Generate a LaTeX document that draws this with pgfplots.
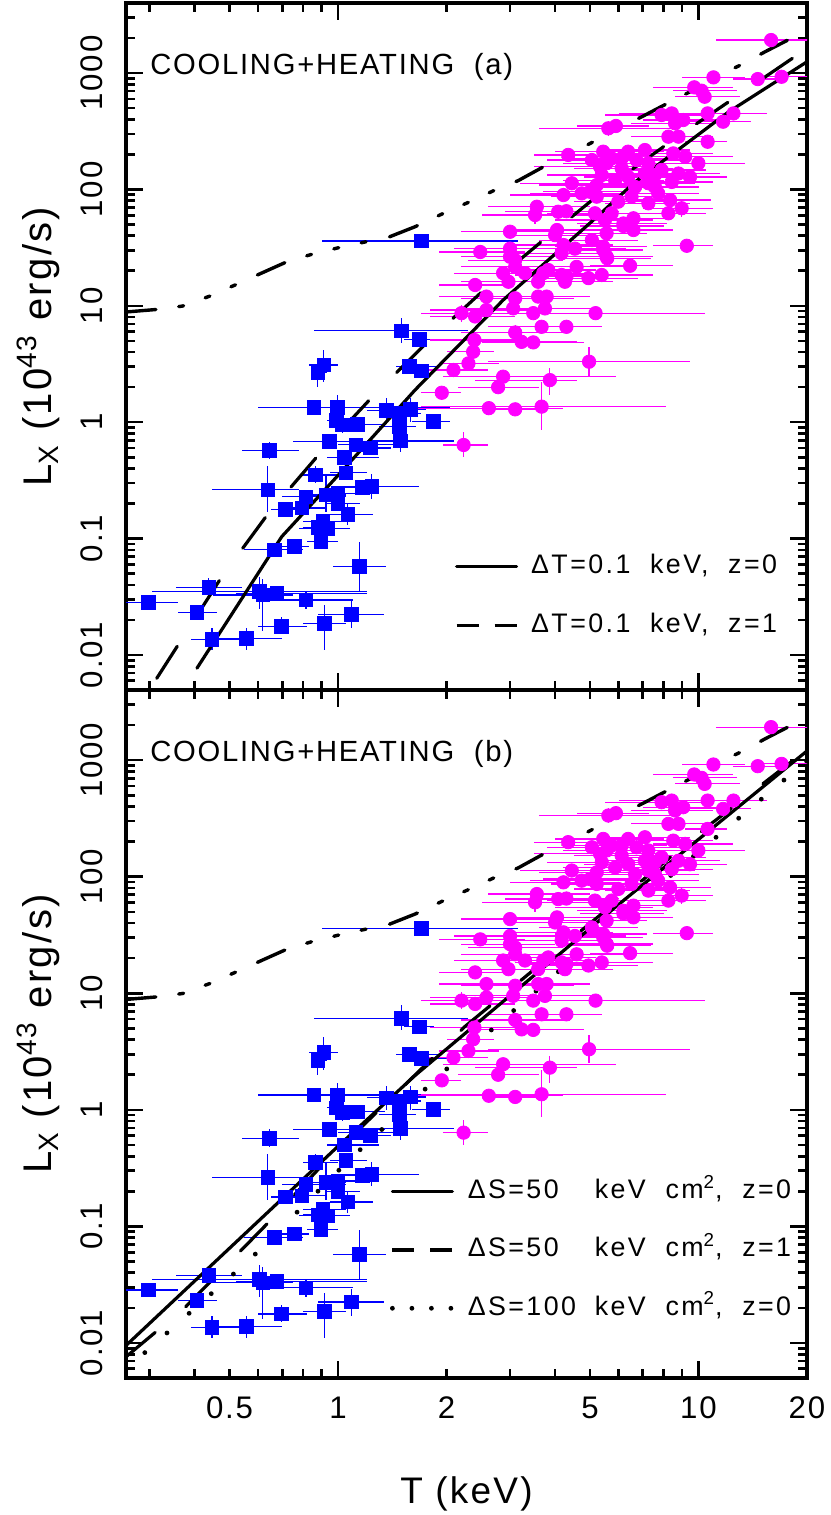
\documentclass[border=0pt]{standalone}
\usepackage{fontspec}
\setmainfont{Liberation Sans}[LetterSpace=6]
\usepackage{pgfplots}
\usepackage{pgfplotstable}
\pgfplotsset{compat=1.18}

\pgfplotstableread{
T L Tlo Thi Llo Lhi
1.70 36 0.90 3.16 33 40
1.50 6.1 0.858 2.3 4.8 7.9
1.68 5.15 1.52 1.85 4.8 5.6
0.913 3.1 0.83 1.0 2.2 4.2
0.878 2.66 0.84 0.93 2.0 3.2
1.58 3.0 1.45 1.9 2.8 3.2
1.70 2.77 1.55 2.0 2.6 2.95
0.856 1.34 0.60 2.05 1.25 1.45
0.994 1.34 0.95 1.05 1.0 1.7
0.99 1.04 0.93 1.08 0.9 1.2
1.03 0.95 0.95 1.15 0.8 1.1
1.13 0.96 1.0 1.35 0.88 1.05
1.36 1.27 1.2 1.5 1.0 1.6
1.48 1.19 1.3 1.7 1.1 1.3
1.59 1.29 1.45 1.75 1.0 1.6
1.48 0.915 1.3 1.65 0.75 1.1
1.84 1.01 1.6 2.05 0.95 1.1
0.946 0.68 0.75 1.35 0.62 0.74
1.12 0.64 1.0 1.5 0.58 0.72
1.23 0.60 1.1 1.4 0.55 0.65
1.49 0.69 1.2 2.1 0.55 0.85
0.646 0.569 0.54 0.78 0.48 0.68
1.04 0.50 0.93 1.3 0.45 0.56
0.865 0.352 0.8 1.0 0.3 0.42
1.05 0.368 0.95 1.2 0.33 0.41
0.638 0.262 0.447 0.78 0.17 0.42
0.815 0.229 0.7 1.05 0.21 0.25
0.926 0.237 0.83 1.05 0.17 0.35
1.0 0.245 0.9 1.25 0.22 0.27
1.0 0.20 0.92 1.15 0.18 0.22
1.166 0.274 1.03 1.3 0.24 0.31
1.24 0.28 1.03 1.68 0.22 0.36
0.714 0.179 0.65 0.8 0.165 0.195
0.794 0.183 0.7 0.92 0.16 0.21
1.064 0.162 0.95 1.25 0.13 0.2
0.907 0.140 0.8 1.05 0.12 0.16
0.936 0.123 0.78 1.08 0.11 0.135
0.878 0.125 0.8 0.95 0.11 0.14
0.897 0.094 0.82 1.0 0.085 0.104
0.757 0.086 0.7 0.83 0.078 0.094
0.666 0.080 0.55 0.8 0.07 0.09
1.146 0.0574 0.97 1.36 0.035 0.094
0.438 0.0379 0.355 0.54 0.032 0.046
0.605 0.035 0.305 1.2 0.025 0.047
0.618 0.0328 0.45 0.75 0.016 0.045
0.677 0.0339 0.52 1.2 0.03 0.038
0.815 0.0297 0.6 1.1 0.025 0.035
0.298 0.0284 0.258 0.36 0.026 0.031
0.406 0.0231 0.36 0.46 0.021 0.0255
1.087 0.0224 0.88 1.34 0.017 0.029
0.695 0.0177 0.6 0.82 0.015 0.021
0.916 0.0187 0.8 1.05 0.011 0.027
0.447 0.0136 0.39 0.56 0.011 0.017
0.556 0.0138 0.45 0.7 0.011 0.017
}\bluedata

\pgfplotstableread{
T L Tlo Thi Llo Lhi
15.9 1921 11.2 22 1750 2100
11.0 918 9.0 13.5 840 1000
14.6 888 12.5 17.5 820 960
17.0 929 14.5 22 860 1000
9.73 754 7.5 12.5 690 830
10.2 705 8.5 12.8 650 770
10.4 626 8.6 13.0 570 690
12.5 450 10.0 15.5 410 495
11.7 382 9.5 14.0 350 420
10.6 450 8.5 13.0 410 500
8.43 450 6.0 11.5 410 495
7.9 436 5.5 10.5 400 475
8.61 370 6.5 11.0 340 405
9.07 395 7.0 12.0 360 430
5.62 335 3.6 8.5 290 390
5.9 351 4.6 7.3 320 385
8.25 284 6.5 10.5 260 310
8.8 284 7.0 11.0 260 310
10.6 257 9.2 12.0 225 295
4.35 198 3.5 5.2 180 218
5.44 211 4.0 7.5 190 235
6.38 211 5.0 8.0 190 235
7.1 218 5.5 9.5 195 245
5.74 185 4.2 7.8 170 200
9.18 191 7.5 12.5 175 210
8.51 204 6.8 11.0 185 225
9.99 168 8.0 13.5 150 188
5.33 157 3.5 8.0 142 172
6.12 152 4.5 8.5 138 168
7.26 168 5.5 10.0 152 185
7.9 147 6.0 10.5 133 162
8.8 137 7.0 11.5 124 150
9.47 128 7.8 12.0 115 142
5.39 133 3.8 7.5 120 147
5.87 120 4.2 8.0 108 133
6.38 128 4.8 8.8 115 142
6.67 105 5.0 9.0 95 116
7.26 113 5.5 9.8 102 125
7.57 105 6.0 10.0 95 116
8.43 116 6.5 11.0 105 128
5.22 109 3.6 7.0 98 121
4.45 113 3.2 6.2 102 125
4.74 92.5 3.4 6.5 84 102
4.22 89.5 3.0 6.0 81 99
5.22 86.7 3.9 7.0 78 96
5.99 78.5 4.5 8.0 71 87
7.26 76 5.5 9.5 69 84
8.34 81 6.5 10.8 73 90
8.98 68.9 7.0 11.0 58 82
3.56 71 2.6 5.0 64 79
3.52 60.3 2.5 5.2 50 72
4.08 64.3 2.9 5.8 58 71
4.3 65 3.1 6.0 59 72
5.16 62.4 3.8 7.0 56 69
5.5 54.6 4.0 7.5 49 61
6.19 51 4.6 8.2 46 57
6.6 44.8 5.0 8.5 40 50
3.0 43.3 2.2 4.2 39 48
4.0 40.5 2.9 5.5 36 45
5.06 36.7 3.6 6.8 33 41
5.44 32.2 4.0 7.2 29 36
9.28 32.8 7.5 11.0 30 36
2.48 29 1.9 3.3 26 32
3.0 31 2.1 4.0 28 34
3.1 21.6 2.2 4.2 19.5 24
4.17 28.3 3.0 5.8 25.5 31
4.54 31 3.3 6.3 28 34
4.59 21.6 3.4 6.2 19.5 24
5.56 26.5 4.2 7.5 24 29
6.46 22.1 5.0 8.5 20 24.5
2.87 19.1 2.1 3.8 17 21.5
3.30 19.1 2.4 4.5 17 21.5
2.97 16.1 2.2 4.0 14.5 18
3.59 16.1 2.6 5.0 14.5 18
4.3 17.8 3.3 5.6 16 20
4.95 17.3 3.7 6.8 15.5 19.5
5.39 18.4 4.0 7.5 16.5 20.5
2.4 15.1 1.9 3.0 13.5 17
2.58 12 1.9 3.5 10.8 13.4
3.1 11.6 2.2 4.5 10.4 13
3.59 12 2.6 4.8 10.8 13.4
3.79 12 2.8 5.0 10.8 13.4
2.2 8.65 1.7 2.8 7.3 10.2
2.4 8.1 1.8 3.1 7.2 9.1
2.58 9.2 1.8 3.8 8.2 10.3
3.06 9.5 2.2 4.3 8.5 10.6
3.48 8.65 2.5 4.9 7.8 9.6
3.75 9.5 2.7 5.3 8.5 10.6
5.18 8.65 3.95 10.4 7.8 9.6
3.1 5.9 2.2 4.4 5.1 6.8
3.67 6.6 2.6 5.2 5.8 7.5
4.3 6.6 3.2 5.4 5.8 7.5
3.23 4.9 2.3 4.6 4.4 5.5
3.48 4.85 2.5 4.8 4.3 5.4
2.39 5.08 1.8 3.3 4.5 5.7
2.37 4.03 2.0 2.7 3.6 4.5
2.30 3.2 1.9 2.8 2.9 3.6
2.09 2.81 1.6 2.6 2.5 3.1
2.87 2.46 1.96 5.9 2.2 2.75
2.78 2.0 2.15 3.6 1.75 2.3
3.87 2.30 2.4 4.6 1.7 2.9
4.97 3.31 2.6 9.5 2.5 4.4
1.94 1.79 1.7 2.2 1.6 2.0
2.62 1.32 1.5 4.2 1.15 1.5
3.1 1.29 2.5 3.8 1.15 1.45
3.67 1.36 1.7 8.1 0.86 2.2
2.23 0.637 1.95 2.6 0.5 0.82
5.56 42 4.2 7.2 38 46
6.19 48.5 4.7 8.0 44 53
5.44 30.2 4.0 7.0 27 33.5
5.58 25.6 4.2 7.4 23 28.5
4.22 33.3 3.1 5.8 30 37
4.05 44.8 3.0 5.5 40.5 49.5
3.0 26.4 2.2 4.0 24 29
3.1 24.7 2.3 4.2 22.3 27.3
3.71 19.1 2.7 5.0 17.2 21
3.83 20.3 2.8 5.2 18.3 22.5
4.17 18.4 3.1 5.6 16.5 20.5
4.26 16.1 3.1 5.8 14.5 18
5.56 168 4.2 7.5 152 185
6.12 185 4.6 8.2 170 200
6.73 179 5.0 9.0 163 196
7.1 137 5.4 9.5 125 150
7.57 133 5.8 9.8 121 146
6.52 86.7 5.0 8.6 79 95
7.73 92.5 6.0 10.0 84 101
8.25 62.4 6.5 10.5 56 69
5.06 179 3.8 6.8 163 196
5.74 62.4 4.3 7.6 56 69
6.6 56.5 5.0 8.5 51 62
5.0 95.5 3.7 6.8 87 105
}\magdata

% model curves
\pgfplotstableread{
T L
0.406 0.0077
0.698 0.104
0.992 0.340
1.635 1.89
2.87 11.2
5.11 54.6
6.67 116
12.1 462
20 1250
}\solidA

\pgfplotstableread{
T L
0.314 0.0063
0.476 0.0471
0.641 0.165
0.891 0.541
1.253 1.69
1.80 5.15
2.61 14.8
3.86 40.6
5.74 111
8.70 281
13.0 656
20 1630
}\dashA

\pgfplotstableread{
T L
0.258 8.85
0.317 9.33
0.371 9.96
0.44 12.1
0.518 15.1
0.597 18.4
0.721 23.9
0.845 27.7
1.013 31.8
1.20 35.6
1.39 39.2
1.635 47.8
1.96 62.3
2.32 78.4
2.70 97.5
3.16 119
3.79 162
4.35 198
5.11 257
5.99 335
6.96 421
8.30 560
9.67 714
11.2 929
13.2 1188
15.3 1524
18.3 2026
20 2296
}\dashdot

\pgfplotstableread{
T L
0.258 0.0095
0.992 0.476
1.635 1.97
5.87 54.6
20 1200
}\solidB

\pgfplotstableread{
T L
0.258 0.0076
0.376 0.0201
0.641 0.108
0.901 0.332
2.25 5.19
10.6 270
20 1230
}\dashB

\pgfplotstableread{
T L
0.291 0.00826
0.573 0.053
1.068 0.366
2.05 2.40
5.87 40.6
20 990
}\dotB

\definecolor{ptblue}{rgb}{0,0,1}
\definecolor{ptmag}{rgb}{1,0,1}

\pgfplotsset{
  LxBluePts/.style={only marks, mark=square*, mark size=3.4pt, color=ptblue,
    error bars/x dir=both, error bars/y dir=both,
    error bars/x explicit, error bars/y explicit,
    error bars/error mark=none,
    error bars/error bar style={line width=0.6pt, color=ptblue}},
  LxMagPts/.style={only marks, mark=*, mark size=3.35pt, color=ptmag,
    error bars/x dir=both, error bars/y dir=both,
    error bars/x explicit, error bars/y explicit,
    error bars/error mark=none,
    error bars/error bar style={line width=0.6pt, color=ptmag}},
  LxSolid/.style={no markers, black, line width=1.6pt, line join=round, solid, line cap=round},
  LxDash/.style={no markers, black, line width=1.6pt, line join=round, line cap=round, dash pattern=on 19pt off 20pt},
  LxDashDot/.style={no markers, black, line width=1.7pt, line join=round, line cap=round, dash pattern=on 15pt off 11.5pt on 2.5pt off 11.5pt on 2.5pt off 11.5pt on 2.5pt off 12pt},
  LxDot/.style={no markers, black, line width=2.4pt, line cap=round, dash pattern=on 0pt off 14.8pt},
}
\pgfkeys{/pgfplots/table/errtab/.style={x=T, y=L,
    x error plus expr=\thisrow{Thi}-\thisrow{T},
    x error minus expr=\thisrow{T}-\thisrow{Tlo},
    y error plus expr=\thisrow{Lhi}-\thisrow{L},
    y error minus expr=\thisrow{L}-\thisrow{Llo}}}

\begin{document}
\begin{tikzpicture}
% ---------------- top panel ----------------
\begin{axis}[name=top, at={(0,344pt)}, anchor=south west,
    scale only axis, width=340.5pt, height=343.5pt,
    xmode=log, ymode=log,
    xmin=0.258, xmax=20, ymin=0.005, ymax=4000,
    axis line style={line width=1.6pt},
    tick style={line width=1.3pt, black},
    tick align=inside,
    major tick length=8.5pt, minor tick length=4.5pt,
    xtick={1,10},
    minor xtick={0.3,0.4,0.6,0.7,0.8,0.9,3,4,6,7,8,9},
    extra x ticks={0.5,2,5,20},
    extra x tick style={major tick length=4.5pt},
    xticklabels={}, extra x tick labels={},
    ytick={0.01,0.1,1,10,100,1000},
    yticklabels={0.01,0.1,1,10,100,1000},
    minor ytick={0.006,0.007,0.008,0.009,0.02,0.03,0.04,0.05,0.06,0.07,0.08,0.09,0.2,0.3,0.4,0.5,0.6,0.7,0.8,0.9,2,3,4,5,6,7,8,9,20,30,40,50,60,70,80,90,200,300,400,500,600,700,800,900,2000,3000},
    tick label style={font=\fontsize{15.6}{18}\selectfont, inner sep=0pt},
    yticklabel style={rotate=90, anchor=south},
    yticklabel shift=11.5pt,
    ylabel={L\textsubscript{X} (10\textsuperscript{43} erg/s)},
    ylabel style={at={(rel axis cs:-0.1087,0.5)}, anchor=base, font=\fontsize{20}{24}\selectfont},
    legend cell align=left,
    legend style={draw=none, fill=none, inner sep=0pt, outer sep=0pt, anchor=north west,
      font=\fontsize{13.4}{15}\selectfont\addfontfeatures{LetterSpace=9},
      nodes={inner sep=0pt, text height=10pt, text depth=3pt}, column sep=6.5pt,
      at={(rel axis cs:0.4831,0.1984)}, row sep=16.5pt}]
  \addplot[LxBluePts, forget plot] table[errtab] {\bluedata};
  \addplot[LxMagPts, forget plot] table[errtab] {\magdata};
  \addplot[LxDashDot, forget plot] table[x=T, y=L] {\dashdot};
  \addplot[LxSolid, legend image code/.code={\draw[solid, line width=1.6pt] (0pt,0pt) -- (30pt,0pt);}] table[x=T, y=L] {\solidA};
  \addlegendentry{ΔT=0.1\ \ keV,\ \ z=0}
  \addplot[LxDash, legend image code/.code={\draw[line width=1.6pt, line cap=butt, dash pattern=on 11pt off 8pt] (0pt,0pt) -- (30pt,0pt);}] table[x=T, y=L] {\dashA};
  \addlegendentry{ΔT=0.1\ \ keV,\ \ z=1}
  \node[anchor=base west, inner sep=0pt, font=\fontsize{14.6}{18}\selectfont] at (rel axis cs:0.0352,0.8952) {COOLING+HEATING\ \ (a)};
\end{axis}
% ---------------- bottom panel ----------------
\begin{axis}[name=bot, at={(0,0)}, anchor=south west,
    scale only axis, width=340.5pt, height=344pt,
    xmode=log, ymode=log,
    xmin=0.258, xmax=20, ymin=0.005, ymax=4000,
    axis line style={line width=1.6pt},
    tick style={line width=1.3pt, black},
    tick align=inside,
    major tick length=8.5pt, minor tick length=4.5pt,
    xtick={1,10},
    minor xtick={0.3,0.4,0.6,0.7,0.8,0.9,3,4,6,7,8,9},
    extra x ticks={0.5,2,5,20},
    extra x tick style={major tick length=4.5pt},
    xticklabels={1,10}, extra x tick labels={0.5,2,5,20},
    xticklabel shift=9.3pt,
    xticklabel style={anchor=north},
    ytick={0.01,0.1,1,10,100,1000},
    yticklabels={0.01,0.1,1,10,100,1000},
    minor ytick={0.006,0.007,0.008,0.009,0.02,0.03,0.04,0.05,0.06,0.07,0.08,0.09,0.2,0.3,0.4,0.5,0.6,0.7,0.8,0.9,2,3,4,5,6,7,8,9,20,30,40,50,60,70,80,90,200,300,400,500,600,700,800,900,2000,3000},
    tick label style={font=\fontsize{15.6}{18}\selectfont, inner sep=0pt},
    yticklabel style={rotate=90, anchor=south},
    yticklabel shift=11.5pt,
    ylabel={L\textsubscript{X} (10\textsuperscript{43} erg/s)},
    ylabel style={at={(rel axis cs:-0.1087,0.5)}, anchor=base, font=\fontsize{20}{24}\selectfont},
    xlabel={T (keV)},
    xlabel style={at={(rel axis cs:0.5,0)}, anchor=base, yshift=-62.5pt, font=\fontsize{18.5}{22}\selectfont},
    legend cell align=left,
    legend style={draw=none, fill=none, inner sep=0pt, outer sep=0pt, anchor=north west,
      font=\fontsize{13.4}{15}\selectfont\addfontfeatures{LetterSpace=9},
      nodes={inner sep=0pt, text height=10pt, text depth=3pt}, column sep=6.5pt,
      at={(rel axis cs:0.3877,0.2897)}, row sep=16.15pt}]
  \addplot[LxBluePts, forget plot] table[errtab] {\bluedata};
  \addplot[LxMagPts, forget plot] table[errtab] {\magdata};
  \addplot[LxDashDot, forget plot] table[x=T, y=L] {\dashdot};
  \addplot[LxSolid, legend image code/.code={\draw[solid, line width=1.6pt] (0pt,0pt) -- (30pt,0pt);}] table[x=T, y=L] {\solidB};
  \addlegendentry{\makebox[63.5pt][l]{ΔS=50}keV\ \ cm\textsuperscript{2},\ \ z=0}
  \addplot[LxDash, legend image code/.code={\draw[line width=1.6pt, line cap=butt, dash pattern=on 11pt off 8pt] (0pt,0pt) -- (30pt,0pt);}] table[x=T, y=L] {\dashB};
  \addlegendentry{\makebox[63.5pt][l]{ΔS=50}keV\ \ cm\textsuperscript{2},\ \ z=1}
  \addplot[LxDot, legend image code/.code={\draw[line width=2.4pt, line cap=round, dash pattern=on 0pt off 9.75pt] (0pt,0pt) -- (30pt,0pt);}] table[x=T, y=L] {\dotB};
  \addlegendentry{\makebox[63.5pt][l]{ΔS=100}keV\ \ cm\textsuperscript{2},\ \ z=0}
  \node[anchor=base west, inner sep=0pt, font=\fontsize{14.6}{18}\selectfont] at (rel axis cs:0.0352,0.8958) {COOLING+HEATING\ \ (b)};
\end{axis}
\pgfresetboundingbox
\path[use as bounding box] (-63pt,-68.5pt) rectangle (352pt,689pt);
\end{tikzpicture}
\end{document}
